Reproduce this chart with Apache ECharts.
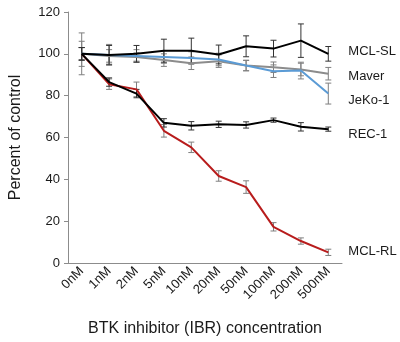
<!DOCTYPE html>
<html>
<head>
<meta charset="utf-8">
<script src="https://cdn.jsdelivr.net/npm/echarts@6/dist/echarts.min.js"></script>
<style>
  html, body { margin: 0; padding: 0; background: #fff; }
  #main { width: 400px; height: 342px; }
</style>
</head>
<body>
<div id="main"></div>
<script>
// concentrations
const categories = ['0nM', '1nM', '2nM', '5nM', '10nM', '20nM', '50nM', '100nM', '200nM', '500nM'];

// percent of control
const mclSL = [100, 99.5, 100, 101.5, 101.5, 99.7, 103.6, 102.5, 106.3, 100];
const mclSLErr = [3, 4.5, 4, 5.5, 6, 4.5, 5, 4, 8, 3.5];
const maver = [100, 99, 98.5, 97, 95.5, 96.5, 94.4, 93.6, 92.5, 90.5];
const maverErr = [10, 3, 2, 3, 3, 3, 2.5, 2.5, 3, 3];
const jeko = [100, 99.5, 99, 98.5, 98, 97.3, 94.4, 91.7, 92, 81];
const jekoErr = [6, 5, 3, 3, 3, 3, 2.5, 3, 4, 5];
const rec1 = [100, 86.5, 81, 67, 65.6, 66.3, 66, 68.3, 65.1, 64];
const rec1Err = [3, 2, 2, 2, 2, 1.5, 1.5, 1, 2, 1];
const mclRL = [100, 85.5, 83, 63.2, 55.3, 41.6, 36.3, 17.3, 10.5, 5.1];
const mclRLErr = [3, 2.5, 3.5, 3, 2.5, 2.5, 3, 2, 1.5, 1.5];

const yTicks = [0, 20, 40, 60, 80, 100, 120];

let myChart = echarts.init(document.getElementById('main'));

function errData(vals, errs) {
    return vals.map(function (v, i) { return [i, v - errs[i], v + errs[i]]; });
}

function errSeries(vals, errs, color) {
    return {
        type: 'custom',
        data: errData(vals, errs),
        z: 3,
        silent: true,
        renderItem: function (params, api) {
            let lo = api.coord([api.value(0), api.value(1)]);
            let hi = api.coord([api.value(0), api.value(2)]);
            let w = 3;
            let style = { stroke: color, lineWidth: 1 };
            return {
                type: 'group',
                children: [
                    { type: 'line', shape: { x1: lo[0], y1: lo[1], x2: hi[0], y2: hi[1] }, style: style },
                    { type: 'line', shape: { x1: lo[0] - w, y1: lo[1], x2: lo[0] + w, y2: lo[1] }, style: style },
                    { type: 'line', shape: { x1: hi[0] - w, y1: hi[1], x2: hi[0] + w, y2: hi[1] }, style: style }
                ]
            };
        }
    };
}

function lineSeries(name, vals, color, dy) {
    return {
        name: name,
        type: 'line',
        data: vals,
        symbol: 'none',
        z: 4,
        lineStyle: { color: color, width: 2 },
        endLabel: {
            show: true,
            formatter: name,
            color: '#1a1a1a',
            fontSize: 13,
            fontFamily: 'Liberation Sans, Arial, sans-serif',
            distance: 20,
            offset: [0, dy]
        }
    };
}

let option = {
    backgroundColor: '#fff',
    animation: false,
    grid: { left: 64, right: 58, top: 12, bottom: 77 },
    xAxis: {
        type: 'category',
        data: categories,
        name: 'BTK inhibitor (IBR) concentration',
        nameLocation: 'middle',
        nameGap: 58,
        nameTextStyle: { fontSize: 16, color: '#1a1a1a', fontFamily: 'Liberation Sans, Arial, sans-serif' },
        axisLine: { lineStyle: { color: '#8c8c8c', width: 1 } },
        axisTick: { length: 4, lineStyle: { color: '#8c8c8c' } },
        axisLabel: {
            rotate: 45,
            interval: 0,
            fontSize: 13,
            margin: 6,
            color: '#1a1a1a',
            fontFamily: 'Liberation Sans, Arial, sans-serif'
        }
    },
    yAxis: {
        type: 'value',
        min: yTicks[0],
        max: yTicks[yTicks.length - 1],
        interval: 20,
        name: 'Percent of control',
        nameLocation: 'middle',
        nameGap: 44,
        nameTextStyle: { fontSize: 16, color: '#1a1a1a', fontFamily: 'Liberation Sans, Arial, sans-serif' },
        axisLine: { show: true, lineStyle: { color: '#8c8c8c', width: 1 } },
        axisTick: { show: true, length: 4, lineStyle: { color: '#8c8c8c' } },
        splitLine: { show: false },
        axisLabel: {
            fontSize: 13,
            margin: 8,
            color: '#1a1a1a',
            fontFamily: 'Liberation Sans, Arial, sans-serif'
        }
    },
    series: [
        lineSeries('MCL-RL', mclRL, '#b81c1c', -1),
        lineSeries('Maver', maver, '#8c8c8c', 3),
        lineSeries('JeKo-1', jeko, '#5b9bd5', 7),
        lineSeries('MCL-SL', mclSL, '#000000', -2),
        lineSeries('REC-1', rec1, '#000000', 5),
        errSeries(maver, maverErr, '#7f7f7f'),
        errSeries(jeko, jekoErr, '#7f7f7f'),
        errSeries(mclRL, mclRLErr, '#7f7f7f'),
        errSeries(mclSL, mclSLErr, '#333333'),
        errSeries(rec1, rec1Err, '#333333')
    ]
};
myChart.setOption(option);
</script>
</body>
</html>
